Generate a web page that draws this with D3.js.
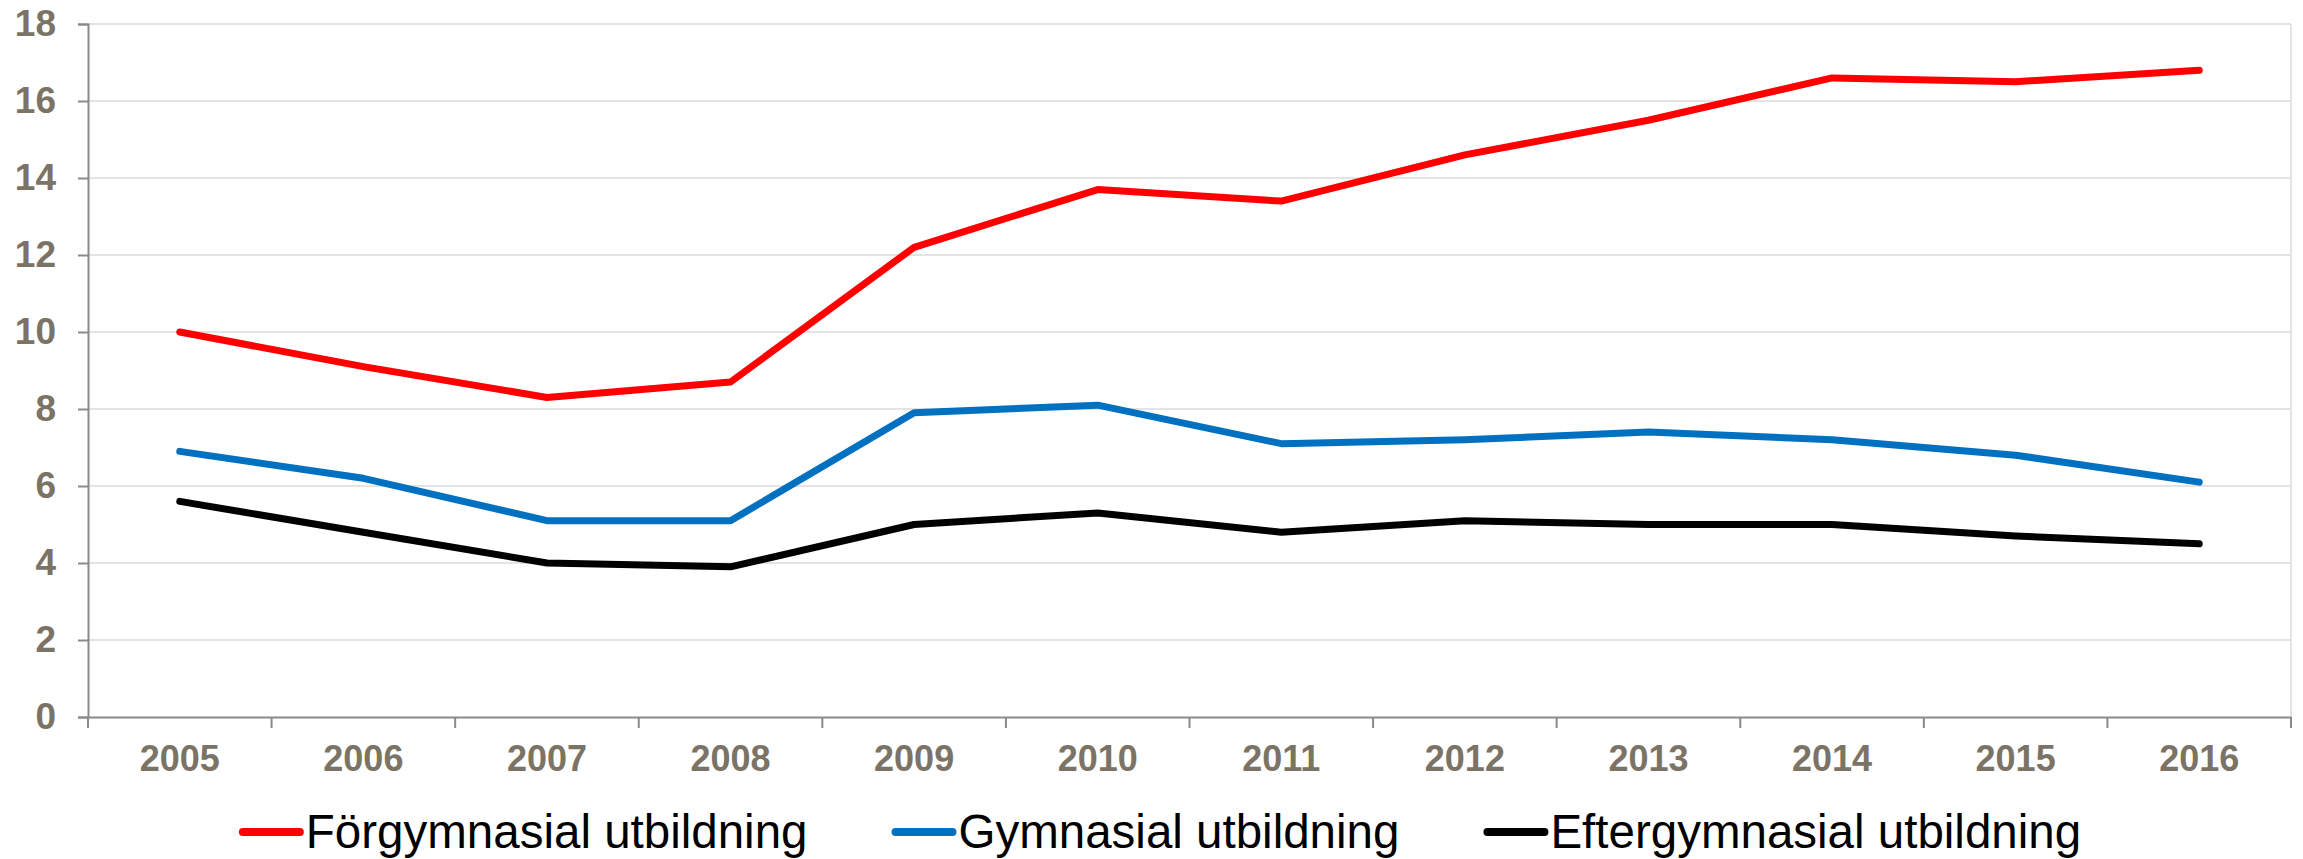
<!DOCTYPE html>
<html>
<head>
<meta charset="utf-8">
<script src="https://cdn.jsdelivr.net/npm/d3@7"></script>
<style>
  body { margin: 0; background: #fff; }
  svg { display: block; font-family: Arial, "Liberation Sans", sans-serif; }
</style>
</head>
<body>
<div id="chart"></div>
<script>
const years = ['2005', '2006', '2007', '2008', '2009', '2010', '2011', '2012', '2013', '2014', '2015', '2016'];
const forgymnasial = [10.0, 9.1, 8.3, 8.7, 12.2, 13.7, 13.4, 14.6, 15.5, 16.6, 16.5, 16.8];
const gymnasial = [6.9, 6.2, 5.1, 5.1, 7.9, 8.1, 7.1, 7.2, 7.4, 7.2, 6.8, 6.1];
const eftergymnasial = [5.6, 4.8, 4.0, 3.9, 5.0, 5.3, 4.8, 5.1, 5.0, 5.0, 4.7, 4.5];
const yTicks = [0, 2, 4, 6, 8, 10, 12, 14, 16, 18];

const series = [
    { name: 'Förgymnasial utbildning', values: forgymnasial, color: '#ff0000' },
    { name: 'Gymnasial utbildning', values: gymnasial, color: '#0070c0' },
    { name: 'Eftergymnasial utbildning', values: eftergymnasial, color: '#000000' }
];

const width = 2303, height = 859;
const margin = { top: 24, right: 12, bottom: 142, left: 88 };
const labelColor = '#7a7366';

const svg = d3.select('#chart')
    .append('svg')
    .attr('width', width)
    .attr('height', height);

const x = d3.scaleBand()
    .domain(years)
    .range([margin.left, width - margin.right])
    .padding(0);

const y = d3.scaleLinear()
    .domain([0, 18])
    .range([height - margin.bottom, margin.top]);

// gridlines
svg.append('g')
    .selectAll('line')
    .data(yTicks.filter(d => d > 0))
    .enter().append('line')
    .attr('x1', margin.left)
    .attr('x2', width - margin.right)
    .attr('y1', d => y(d))
    .attr('y2', d => y(d))
    .attr('stroke', '#e4e4e4')
    .attr('stroke-width', 2);

// right border of plot area
svg.append('line')
    .attr('x1', width - margin.right)
    .attr('x2', width - margin.right)
    .attr('y1', y(18))
    .attr('y2', y(0))
    .attr('stroke', '#e4e4e4')
    .attr('stroke-width', 2);

// y axis
const yAxis = svg.append('g')
    .attr('transform', 'translate(' + margin.left + ',0)')
    .call(d3.axisLeft(y).tickValues(yTicks).tickSize(10).tickPadding(22));
yAxis.select('.domain').attr('stroke', '#8a8a8a').attr('stroke-width', 2);
yAxis.selectAll('.tick line').attr('stroke', '#8a8a8a').attr('stroke-width', 2);
yAxis.selectAll('.tick text')
    .attr('fill', labelColor)
    .style('font-size', '37px')
    .style('font-weight', 'bold')
    .style('font-family', 'Arial, "Liberation Sans", sans-serif');

// x axis with labels centred in each band
const xAxis = svg.append('g')
    .attr('transform', 'translate(0,' + y(0) + ')')
    .call(d3.axisBottom(x).tickSize(0).tickPadding(28));
xAxis.select('.domain').attr('stroke', '#8a8a8a').attr('stroke-width', 2);
xAxis.selectAll('.tick text')
    .attr('fill', labelColor)
    .style('font-size', '36px')
    .style('font-weight', 'bold')
    .style('font-family', 'Arial, "Liberation Sans", sans-serif');

// tick marks between categories
const bounds = years.map(d => x(d)).concat([x.range()[1]]);
svg.append('g')
    .selectAll('line')
    .data(bounds)
    .enter().append('line')
    .attr('x1', d => d)
    .attr('x2', d => d)
    .attr('y1', y(0))
    .attr('y2', y(0) + 11)
    .attr('stroke', '#8a8a8a')
    .attr('stroke-width', 2);

const line = d3.line()
    .x((d, i) => x(years[i]) + x.bandwidth() / 2)
    .y(d => y(d));

svg.append('g')
    .selectAll('path')
    .data(series)
    .enter().append('path')
    .attr('d', d => line(d.values))
    .attr('fill', 'none')
    .attr('stroke', d => d.color)
    .attr('stroke-width', 7)
    .attr('stroke-linejoin', 'round')
    .attr('stroke-linecap', 'round');

// legend
const legend = svg.append('g');
const items = legend.selectAll('g')
    .data(series)
    .enter().append('g');

items.append('line')
    .attr('x1', 0)
    .attr('x2', 57)
    .attr('y1', 832)
    .attr('y2', 832)
    .attr('stroke', d => d.color)
    .attr('stroke-width', 8)
    .attr('stroke-linecap', 'round');

items.append('text')
    .attr('x', 63)
    .attr('y', 848)
    .attr('fill', '#000')
    .style('font-size', '47.5px')
    .text(d => d.name);

let offset = 0;
const gap = 88;
const widths = [];
items.each(function() {
    widths.push(this.getBBox().width);
});
const total = d3.sum(widths) + gap * (widths.length - 1);
let start = 1162 - total / 2;
items.attr('transform', (d, i) => {
    const t = 'translate(' + (start + offset) + ',0)';
    offset += widths[i] + gap;
    return t;
});
</script>
</body>
</html>
